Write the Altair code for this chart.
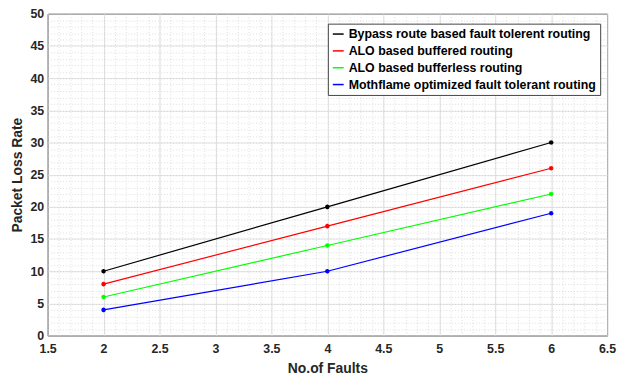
import altair as alt
import pandas as pd

faults = [2, 4, 6]
series_names = [
    "Bypass route based fault tolerent routing",
    "ALO based buffered routing",
    "ALO based bufferless routing",
    "Mothflame optimized fault tolerant routing",
]
bypass = [10, 20, 30]
alo_buffered = [8, 17, 26]
alo_bufferless = [6, 14, 22]
mothflame = [4, 10, 19]
colors = ["#000000", "#ff0000", "#00ff00", "#0000ff"]

x_major = [1.5, 2, 2.5, 3, 3.5, 4, 4.5, 5, 5.5, 6, 6.5]
y_major = [0, 5, 10, 15, 20, 25, 30, 35, 40, 45, 50]
x_minor = [round(1.5 + 0.1 * i, 2) for i in range(51)]
y_minor = list(range(0, 51))

rows = []
for name, vals in zip(series_names, [bypass, alo_buffered, alo_bufferless, mothflame]):
    for f, v in zip(faults, vals):
        rows.append({"Series": name, "Faults": f, "Rate": v})
df = pd.DataFrame(rows)

xscale = alt.Scale(domain=[1.5, 6.5], nice=False, zero=False)
yscale = alt.Scale(domain=[0, 50], nice=False)
cscale = alt.Scale(domain=series_names, range=colors)

font = "Liberation Sans"
asterisk = "M-1,0L1,0M0,-1L0,1M-0.7,-0.7L0.7,0.7M-0.7,0.7L0.7,-0.7"

base = alt.Chart(df)

lines = base.mark_line(strokeWidth=1.2).encode(
    x=alt.X("Faults:Q", scale=xscale,
            axis=alt.Axis(values=x_major, title="No.of Faults", grid=True, gridColor="#dcdcdc",
                          gridWidth=0.8, tickSize=0, labelPadding=7, domain=False, format="~g",
                          labelFlush=False, orient="bottom")),
    y=alt.Y("Rate:Q", scale=yscale,
            axis=alt.Axis(values=y_major, title="Packet Loss Rate", grid=True, gridColor="#dcdcdc",
                          gridWidth=0.8, tickSize=0, labelPadding=4, domain=False, orient="left")),
    color=alt.Color("Series:N", scale=cscale,
                    legend=alt.Legend(title=None, orient="none", legendX=283, legendY=10,
                                      symbolType="stroke", symbolSize=120, symbolStrokeWidth=1.5,
                                      labelFont=font, labelFontSize=12.5, labelFontWeight="bold",
                                      labelColor="#000000", rowPadding=4, padding=4,
                                      strokeColor="#444444", fillColor="#ffffff",
                                      labelLimit=400)),
    order="Faults:Q",
)

minor = base.mark_point(opacity=0).encode(
    x=alt.X("Faults:Q", scale=xscale,
            axis=alt.Axis(values=x_minor, labels=False, ticks=False, domain=False, title=None,
                          grid=True, gridDash=[1, 2], gridColor="#c8c8c8", gridWidth=0.6, orient="top")),
    y=alt.Y("Rate:Q", scale=yscale,
            axis=alt.Axis(values=y_minor, labels=False, ticks=False, domain=False, title=None,
                          grid=True, gridDash=[1, 2], gridColor="#c8c8c8", gridWidth=0.6, orient="right")),
)

points = base.mark_point(shape=asterisk, filled=False, size=22, strokeWidth=1.3, opacity=1).encode(
    x=alt.X("Faults:Q", scale=xscale, axis=None),
    y=alt.Y("Rate:Q", scale=yscale, axis=None),
    color=alt.Color("Series:N", scale=cscale, legend=None),
)

chart = alt.layer(lines, minor, points).resolve_axis(x="independent", y="independent").properties(
    width=565, height=325,
    autosize=alt.AutoSizeParams(type="none"),
    padding={"left": 40, "top": 4, "right": 10, "bottom": 38},
).configure_view(stroke="#262626", strokeWidth=1).configure_axis(
    labelFont=font, labelFontSize=12.5, labelFontWeight="bold", labelColor="#262626",
    titleFont=font, titleFontSize=14, titleFontWeight="bold", titleColor="#262626",
).configure_axisX(titlePadding=7).configure_axisY(titlePadding=5)

chart.save("out.html", embed_options={"renderer": "svg", "actions": False})
